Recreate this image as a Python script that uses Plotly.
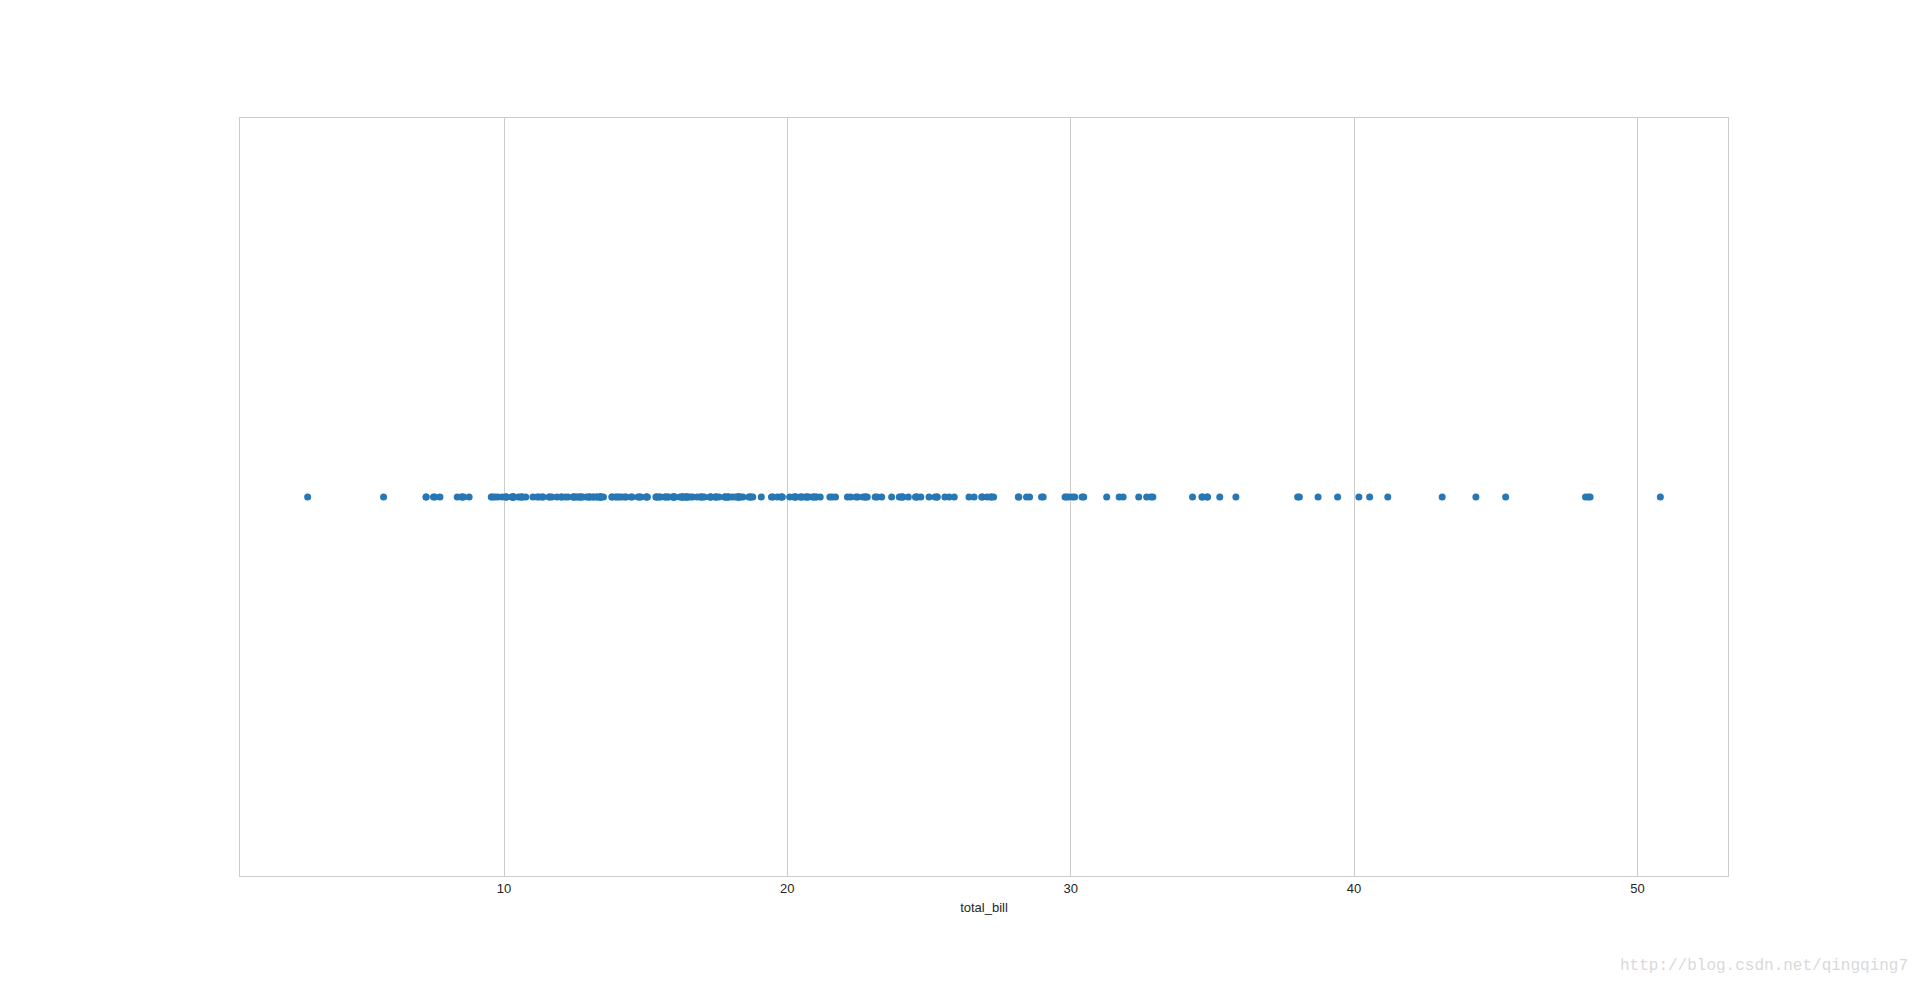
import plotly.graph_objects as go

total_bill = [16.99, 10.34, 21.01, 23.68, 24.59, 25.29, 8.77, 26.88, 15.04, 14.78, 10.27, 35.26, 15.42, 18.43, 14.83, 21.58, 10.33, 16.29, 16.97, 20.65, 17.92, 20.29, 15.77, 39.42, 19.82, 17.81, 13.37, 12.69, 21.7, 19.65, 9.55, 18.35, 15.06, 20.69, 17.78, 24.06, 16.31, 16.93, 18.69, 31.27, 16.04, 17.46, 13.94, 9.68, 30.4, 18.29, 22.23, 32.4, 28.55, 18.04, 12.54, 10.29, 34.81, 9.94, 25.56, 19.49, 38.01, 26.41, 11.24, 48.27, 20.29, 13.81, 11.02, 18.29, 17.59, 20.08, 16.45, 3.07, 20.23, 15.01, 12.02, 17.07, 26.86, 25.28, 14.73, 10.51, 17.92, 27.2, 22.76, 17.29, 19.44, 16.66, 10.07, 32.68, 15.98, 34.83, 13.03, 18.28, 24.71, 21.16, 28.97, 22.49, 5.75, 16.32, 22.75, 40.17, 27.28, 12.03, 21.01, 12.46, 11.35, 15.38, 44.3, 22.42, 20.92, 15.36, 20.49, 25.21, 18.24, 14.31, 14.0, 7.25, 38.07, 23.95, 25.71, 17.31, 29.93, 10.65, 12.43, 24.08, 11.69, 13.42, 14.26, 15.95, 12.48, 29.8, 8.52, 14.52, 11.38, 22.82, 19.08, 20.27, 11.17, 12.26, 18.26, 8.51, 10.33, 14.15, 16.0, 13.16, 17.47, 34.3, 41.19, 27.05, 16.43, 8.35, 18.64, 11.87, 9.78, 7.51, 14.07, 13.13, 17.26, 24.55, 19.77, 29.85, 48.17, 25.0, 13.39, 16.49, 21.5, 12.66, 16.21, 13.81, 17.51, 24.52, 20.76, 31.71, 10.59, 10.63, 50.81, 15.81, 7.25, 31.85, 16.82, 32.9, 17.89, 14.48, 9.6, 34.63, 34.65, 23.33, 45.35, 23.17, 40.55, 20.69, 20.9, 30.46, 18.15, 23.1, 15.69, 19.81, 28.44, 15.48, 16.58, 7.56, 10.34, 43.11, 13.0, 13.51, 18.71, 12.74, 13.0, 16.4, 20.53, 16.47, 26.59, 38.73, 24.27, 12.76, 30.06, 25.89, 48.33, 13.27, 28.17, 12.9, 28.15, 11.59, 7.74, 30.14, 12.16, 13.42, 8.58, 15.98, 13.42, 16.27, 10.09, 20.45, 13.28, 22.12, 24.01, 15.69, 11.61, 10.77, 15.53, 10.07, 12.6, 32.83, 35.83, 29.03, 27.18, 22.67, 17.82, 18.78]

x_ticks = [10, 20, 30, 40, 50]
x_label = "total_bill"
watermark = "http://blog.csdn.net/qingqing7"

lo, hi = min(total_bill), max(total_bill)
pad = (hi - lo) * 0.05

fig = go.Figure(go.Scatter(
    x=total_bill, y=[0] * len(total_bill), mode="markers",
    marker=dict(color="#2677b4", size=7, line=dict(width=0)),
    hoverinfo="x", showlegend=False,
))

fig.update_layout(
    width=1920, height=984,
    margin=dict(l=232, r=200, t=110, b=116),
    paper_bgcolor="white", plot_bgcolor="white",
    font=dict(family="Liberation Sans, Arial, sans-serif", size=13, color="#262626"),
    xaxis=dict(
        range=[lo - pad, hi + pad], tickvals=x_ticks,
        showgrid=True, gridcolor="#cccccc", gridwidth=1,
        showline=True, linecolor="#cccccc", linewidth=1, mirror=True,
        zeroline=False, ticks="", ticklen=0,
        title=dict(text=x_label, font=dict(size=13, color="#262626"), standoff=8),
        tickfont=dict(size=13, color="#262626"),
    ),
    yaxis=dict(
        range=[-0.5, 0.5], showticklabels=False, showgrid=False,
        showline=True, linecolor="#cccccc", linewidth=1, mirror=True,
        zeroline=False, ticks="",
    ),
    annotations=[dict(
        text=watermark, xref="paper", yref="paper",
        x=1.0, xanchor="right", y=0, yanchor="top",
        xshift=182, yshift=-79, showarrow=False,
        font=dict(family="Liberation Mono, DejaVu Sans Mono, monospace", size=16, color="#d9d9d9"),
    )],
)

fig.write_html("out.html")
